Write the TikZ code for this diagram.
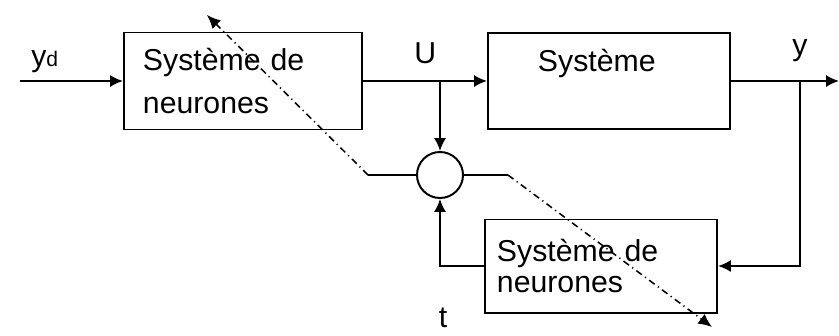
\documentclass[tikz,border=0pt]{standalone}
\usepackage{fontspec}
\setmainfont{Liberation Sans}
\usetikzlibrary{arrows.meta, positioning, calc}

\begin{document}
\begin{tikzpicture}[
    x=0.025cm, y=-0.025cm,
    font=\fontsize{21.5}{30}\selectfont,
    bloc/.style={draw, line width=1.4pt, align=left, inner ysep=0pt},
    somme/.style={draw, circle, line width=1.4pt, minimum size=1.15cm, inner sep=0pt},
    fleche/.style={-{Latex[length=0.32cm, width=0.3cm]}, line width=1.4pt},
    trait/.style={line width=1.4pt},
    adapt/.style={-{Latex[length=0.34cm, width=0.3cm]}, line width=1.1pt,
                  dash pattern=on 0.17cm off 0.1cm on 0.03cm off 0.1cm}
  ]
    \useasboundingbox (0,0) rectangle (839,335);
    % blocs
    \node[bloc, minimum width=5.95cm, minimum height=2.425cm, inner xsep=0.475cm,
          text width=5cm] (reseau) at (243,81) {Système de\\neurones};
    \node[bloc, minimum width=6.05cm, minimum height=2.4cm, inner xsep=1.25cm,
          text width=3.55cm] (systeme) at (609,81) {Système\\\mbox{}};
    \node[bloc, minimum width=5.8cm, minimum height=2.325cm, inner xsep=0.3cm,
          text width=5.2cm, font=\fontsize{21.5}{21.5}\selectfont]
      (apprent) at (601,266) {Système de\\neurones};
    \node[somme] (som) at (440,175) {};
    % points
    \coordinate (entree) at (20,81);
    \coordinate (brU) at (440,81);
    \coordinate (bry) at (800,81);
    \coordinate (sortie) at (839,81);
    \coordinate (gauche) at (368,175);
    \coordinate (droite) at (508,175);
    \coordinate (pointeA) at (207,15);
    \coordinate (pointeB) at (712,327);
    % liaisons
    \draw[fleche] (entree) -- (reseau.west);
    \draw[fleche] (reseau.east) -- (systeme.west);
    \draw[fleche] (brU) -- (som.north);
    \draw[fleche] (systeme.east) -- (sortie);
    \draw[fleche] (bry) |- (apprent.east);
    \draw[fleche] (apprent.west) -| (som.south);
    \draw[trait] (som.west) -- (gauche);
    \draw[trait] (som.east) -- (droite);
    \draw[adapt] (gauche) -- (pointeA);
    \draw[adapt] (droite) -- (pointeB);
    % etiquettes
    \node[anchor=base west, inner sep=0pt] (lyd) at (31,66)
      {y{\fontsize{15}{15}\selectfont d}};
    \node[anchor=base west, inner sep=0pt] (lU) at (414,63) {U};
    \node[anchor=base, inner sep=0pt] (ly) at (800,55) {y};
    \node[anchor=base, inner sep=0pt] (lt) at (443,327) {t};
\end{tikzpicture}
\end{document}
